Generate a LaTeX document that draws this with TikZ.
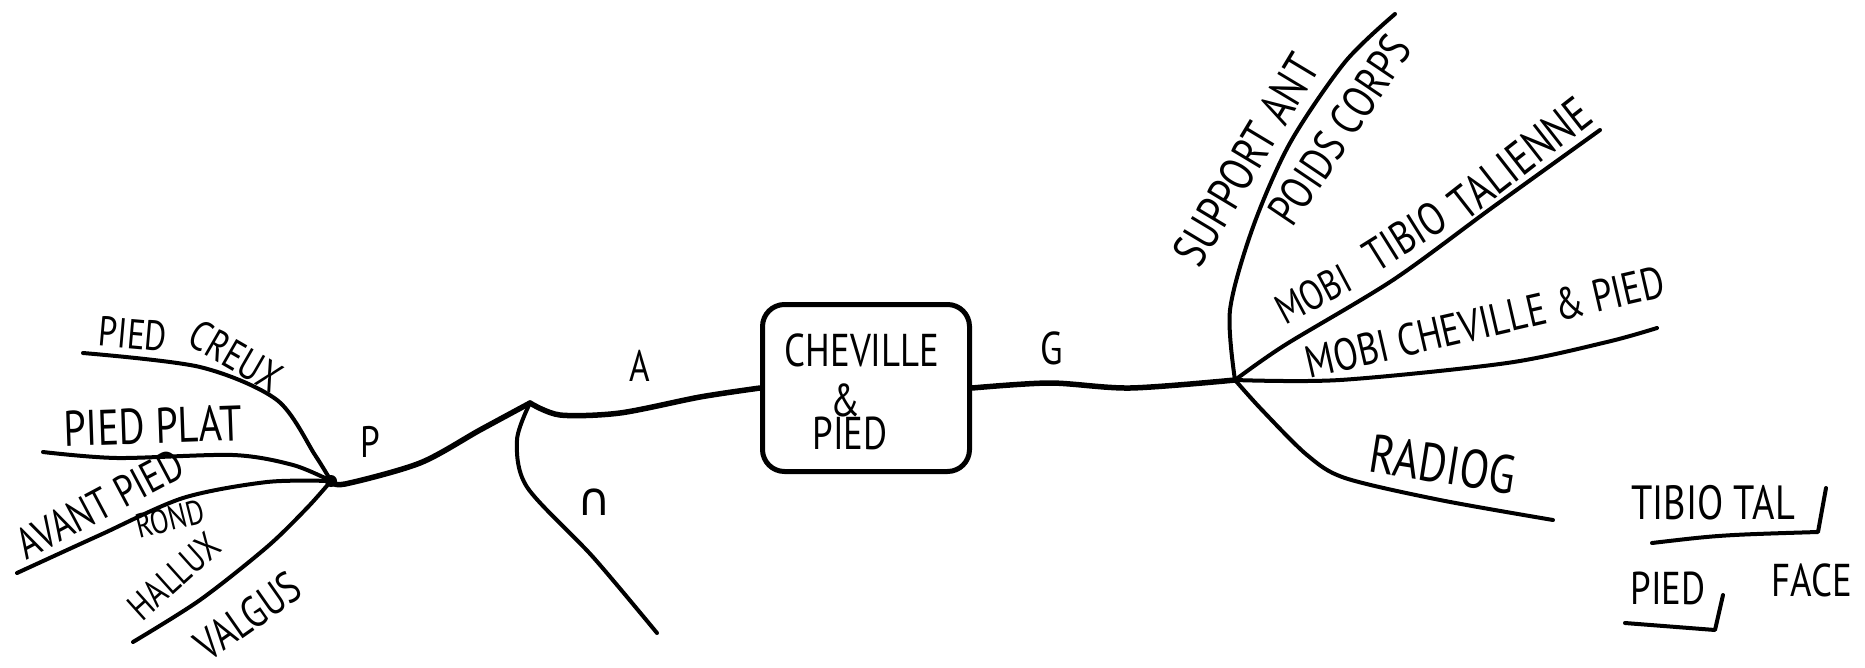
\documentclass[tikz,border=0pt]{standalone}
\usepackage{fontspec}
\newfontfamily\hand{PT Sans}[FakeStretch=0.8]
\newfontfamily\symb{DejaVu Sans}
\begin{document}
\begin{tikzpicture}[x=1pt,y=-1pt,line cap=round,line join=round,
  mainink/.style={line width=5.5pt},
  branchink/.style={line width=4pt},
  lbl/.style={font=\hand\fontsize{#1}{#1}\selectfont,inner sep=0pt},
  lbl/.default=40,
  centralbox/.style={draw,line width=5pt,rounded corners=22pt,minimum width=207pt,minimum height=167pt,align=center,inner sep=0pt}]
\useasboundingbox[fill=white] (0,0) rectangle (1865,667);

% hubs
\coordinate (hubL) at (331,481);
\coordinate (J) at (530,403);
\coordinate (hubR) at (1235,380);

% central box
\node[centralbox] (box) at (866,388) {};
\node[lbl=46] (cheville) at (862,350) {CHEVILLE};
\node[lbl=46] (amp) at (845,400) {\&};
\node[lbl=46] (pied) at (850,433) {PIED};

% main line
\draw[mainink] plot[smooth] coordinates {(hubL) (345,484) (420,463) (480,430) (J)};
\draw[mainink] plot[smooth] coordinates {(J) (560,415) (620,413) (700,397) (box.west)};
\draw[mainink] plot[smooth] coordinates {(box.east) (1050,383) (1130,388) (hubR)};
\fill (hubL) circle (6pt);

% left branches
\coordinate (creuxEnd) at (83,353);
\coordinate (platEnd) at (43,452);
\coordinate (avantEnd) at (17,573);
\coordinate (halluxEnd) at (133,642);
\draw[branchink] plot[smooth] coordinates {(creuxEnd) (200,367) (277,400) (315,455) (hubL)};
\draw[branchink] plot[smooth] coordinates {(platEnd) (117,458) (233,455) (293,465) (hubL)};
\draw[branchink] plot[smooth] coordinates {(avantEnd) (100,535) (183,498) (267,482) (hubL)};
\draw[branchink] plot[smooth] coordinates {(halluxEnd) (200,600) (267,547) (307,508) (hubL)};

% C branch
\coordinate (cEnd) at (657,633);
\draw[branchink] plot[smooth] coordinates {(J) (517,440) (527,487) (593,557) (cEnd)};

% right branches
\coordinate (supEnd) at (1395,14);
\coordinate (tibEnd) at (1600,130);
\coordinate (chevEnd) at (1657,328);
\coordinate (radEnd) at (1553,520);
\draw[branchink] plot[smooth] coordinates {(hubR) (1230,310) (1253,227) (1290,143) (1345,62) (supEnd)};
\draw[branchink] plot[smooth] coordinates {(hubR) (1285,345) (1393,280) (1493,207) (tibEnd)};
\draw[branchink] plot[smooth] coordinates {(hubR) (1340,380) (1507,363) (1607,342) (chevEnd)};
\draw[branchink] plot[smooth] coordinates {(hubR) (1262,410) (1307,455) (1345,478) (1440,500) (radEnd)};

% left labels
\node[lbl=42,rotate=-5] (lPied1) at (133,334) {PIED};
\node[lbl=42,rotate=-30] (lCreux) at (236,356) {CREUX};
\node[lbl=50,rotate=2] (lPlat) at (153,426) {PIED PLAT};
\node[lbl=44,rotate=28] (lAvant) at (100,504) {AVANT PIED};
\node[lbl=34,rotate=14] (lRond) at (170,519) {ROND};
\node[lbl=38,rotate=42] (lHallux) at (174,576) {HALLUX};
\node[lbl=44,rotate=35] (lValgus) at (248,616) {VALGUS};

% line labels
\node[lbl=44] (lP) at (370,442) {P};
\node[lbl=44] (lA) at (640,366) {A};
\node[font=\symb\fontsize{46}{46}\selectfont,inner sep=0pt] (lC) at (594,502) {∩};
\node[lbl=46] (lG) at (1052,348) {G};

% right labels
\node[lbl=48,rotate=59] (lSupport) at (1246,160) {SUPPORT ANT};
\node[lbl=46,rotate=56] (lPoids) at (1340,130) {POIDS CORPS};
\node[lbl=42,rotate=28] (lMobi1) at (1313,294) {MOBI};
\node[lbl=46,rotate=32] (lTibio) at (1405,236) {TIBIO};
\node[lbl=48,rotate=38] (lTalienne) at (1520,158) {TALIENNE};
\node[lbl=45,rotate=13] (lMobi2) at (1485,322) {MOBI CHEVILLE \& PIED};
\node[lbl=54,rotate=-9] (lRadiog) at (1443,464) {RADIOG};

% bottom right notes
\node[lbl=48] (lTibTal) at (1713,503) {TIBIO TAL};
\node[lbl=46] (lPiedB) at (1668,588) {PIED};
\node[lbl=46] (lFace) at (1812,580) {FACE};
\coordinate (u1a) at (1652,543);
\coordinate (u1b) at (1818,532);
\coordinate (u1c) at (1826,488);
\draw[branchink] (u1a) .. controls (1720,535) .. (u1b) -- (u1c);
\coordinate (u2a) at (1625,623);
\coordinate (u2b) at (1715,630);
\coordinate (u2c) at (1723,595);
\draw[branchink] (u2a) -- (u2b) -- (u2c);
\end{tikzpicture}
\end{document}
